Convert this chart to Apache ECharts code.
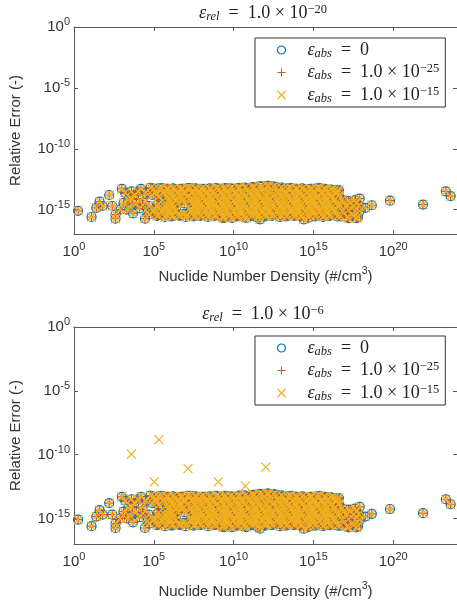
<!doctype html>
<html>
<head>
<meta charset="utf-8">
<title>Relative Error vs Nuclide Number Density</title>
<script src="https://cdn.jsdelivr.net/npm/echarts@6/dist/echarts.min.js"></script>
<style>
    html,body{
        margin: 0;
        padding: 0;
        background: #fff;
    }
    #chart{
        width: 457px;
        height: 606px;
    }
</style>
</head>
<body>
<div id="chart"></div>
<script>
    // nuclide number density (#/cm3) of every nuclide, same set in both panels
    var density = [
        1.8, 12.6, 25, 40, 63, 160, 250, 400, 400, 800, 1000, 1260, 1600, 2000, 2500, 3200, 4000, 4500, 5000, 6300, 8000,
        1e4, 1.26e4, 1.6e4, 2e4, 2e4, 2.8e4, 3.2e4, 4e4, 5e4, 5e4, 6.3e4, 8e4,
        // upper rows
        1e5, 3.2e5, 8e5, 2.5e6, 6.3e6, 2e7, 5e7, 1.6e8, 4e8, 1.3e9, 3.2e9, 1e10, 2.5e10, 8e10, 2e11, 6.3e11, 1.6e12, 5e12, 1.3e13, 4e13, 1e14, 3.2e14, 8e14, 2.5e15, 6.3e15, 2e16,
        1.26e5, 4e5, 1e6, 3.2e6, 8e6, 2.5e7, 6.3e7, 2e8, 5e8, 1.6e9, 4e9, 1.26e10, 3.2e10, 1e11, 2.5e11, 8e11, 2e12, 6.3e12, 1.6e13, 5e13, 1.26e14, 4e14, 1e15, 3.2e15, 8e15, 2.5e16,
        1.6e5, 5e5, 1.3e6, 4e6, 1e7, 3.2e7, 8e7, 2.5e8, 6.3e8, 2e9, 5e9, 1.6e10, 4e10, 1.3e11, 3.2e11, 1e12, 2.5e12, 8e12, 2e13, 6.3e13, 1.6e14, 5e14, 1.3e15, 4e15, 1e16, 3.2e16,
        2e5, 6.3e5, 1.6e6, 5e6, 1.26e7, 4e7, 1e8, 3.2e8, 8e8, 2.5e9, 6.3e9, 2e10, 5e10, 1.6e11, 4e11, 1.26e12, 3.2e12, 1e13, 2.5e13, 8e13, 2e14, 6.3e14, 1.6e15, 5e15, 1.26e16, 4e16,
        // middle rows
        8e5, 2.5e6, 6.3e6, 2e7, 5e7, 1.6e8, 4e8, 1.3e9, 3.2e9, 1e10, 2.5e10, 8e10, 2e11, 6.3e11, 1.6e12, 5e12, 1.3e13, 4e13, 1e14, 3.2e14, 8e14, 2.5e15, 6.3e15, 2e16,
        1e6, 3.2e6, 8e6, 2.5e7, 6.3e7, 2e8, 5e8, 1.6e9, 4e9, 1.26e10, 3.2e10, 1e11, 2.5e11, 8e11, 2e12, 6.3e12, 1.6e13, 5e13, 1.26e14, 4e14, 1e15, 3.2e15, 8e15, 2.5e16,
        1.6e5, 5e5, 1.3e6, 3.2e7, 8e7, 2.5e8, 6.3e8, 2e9, 5e9, 1.6e10, 4e10, 1.3e11, 3.2e11, 1e12, 2.5e12, 8e12, 2e13, 6.3e13, 1.6e14, 5e14, 1.3e15, 4e15, 1e16, 3.2e16,
        2e5, 6.3e5, 1.6e6, 4e7, 1e8, 3.2e8, 8e8, 2.5e9, 6.3e9, 2e10, 5e10, 1.6e11, 4e11, 1.26e12, 3.2e12, 1e13, 2.5e13, 8e13, 2e14, 6.3e14, 1.6e15, 5e15, 1.26e16,
        // lower rows
        1e5, 3.2e5, 8e5, 2.5e6, 2e7, 5e7, 1.6e8, 4e8, 1.3e9, 3.2e9, 1e10, 2.5e10, 8e10, 2e11, 6.3e11, 1.6e12, 5e12, 1.3e13, 4e13, 1e14, 3.2e14, 8e14, 2.5e15, 6.3e15, 2e16,
        1.26e5, 4e5, 1e6, 3.2e6, 8e6, 2.5e7, 6.3e7, 2e8, 5e8, 1.6e9, 4e9, 1.26e10, 3.2e10, 1e11, 2.5e11, 8e11, 2e12, 6.3e12, 1.6e13, 5e13, 1.26e14, 4e14, 1e15, 3.2e15, 8e15, 2.5e16,
        1.6e5, 5e5, 1.3e6, 4e6, 1e7, 3.2e7, 8e7, 2.5e8, 6.3e8, 2e9, 5e9, 1.6e10, 4e10, 1.3e11, 3.2e11, 1e12, 2.5e12, 8e12, 2e13, 6.3e13, 1.6e14, 5e14, 1.3e15, 4e15, 1e16, 3.2e16,
        2.5e9, 8e9, 6.3e10, 4.5e11, 2.5e14,
        // high-density tail
        3.2e16, 6.3e16, 1.6e17, 4e17, 8e17, 5e16, 1.3e17, 3.2e17, 7e17, 8e16, 2e17, 5e17, 6.3e16, 1.6e17, 4e17, 8e17, 5e16, 1.3e17, 3.2e17, 6.3e17, 1.6e17, 5e17,
        1.8e18, 4.6e18, 6.3e19, 7.4e21, 2e23, 4e23
    ];
    // relative error (-) matching density
    var relError = [
        8e-16, 2.5e-16, 1.4e-15, 4.5e-15, 2e-15, 1.6e-14, 2e-15, 4e-16, 1.8e-16, 1e-15, 5e-14, 3.5e-15, 2.5e-14, 1e-15, 6.3e-15, 1.6e-15, 3.2e-14, 8e-15, 5e-16, 1.6e-14, 3.2e-15,
        3.2e-14, 1.26e-15, 5e-14, 8e-15, 2.5e-15, 1.8e-16, 2.5e-14, 6.3e-16, 2e-15, 4e-16, 6.3e-14, 1.6e-14,
        5e-14, 6e-14, 5e-14, 4.5e-14, 5e-14, 6e-14, 5e-14, 5e-14, 4.5e-14, 5e-14, 6e-14, 5e-14, 6.3e-14, 5e-14, 7e-14, 8e-14, 9e-14, 7e-14, 5e-14, 6e-14, 5e-14, 4.5e-14, 5e-14, 6e-14, 4.5e-14, 4e-14,
        3.2e-14, 3e-14, 3.5e-14, 3.2e-14, 3e-14, 3.2e-14, 3.5e-14, 3.2e-14, 3e-14, 3.2e-14, 3.5e-14, 3.2e-14, 3.2e-14, 3.5e-14, 4e-14, 4.5e-14, 4e-14, 3.5e-14, 3.2e-14, 3e-14, 3.2e-14, 3.5e-14, 3.2e-14, 3e-14, 3.2e-14, 2.5e-14,
        1.8e-14, 2e-14, 1.6e-14, 1.8e-14, 2e-14, 1.8e-14, 1.6e-14, 2e-14, 1.8e-14, 1.8e-14, 1.6e-14, 2e-14, 1.8e-14, 1.8e-14, 2e-14, 1.8e-14, 1.6e-14, 2e-14, 1.8e-14, 1.8e-14, 2e-14, 1.6e-14, 1.8e-14, 2e-14, 1.8e-14, 2.5e-14,
        1.1e-14, 1.2e-14, 1e-14, 1.1e-14, 1.2e-14, 1.1e-14, 1e-14, 1.1e-14, 1.2e-14, 1.1e-14, 1e-14, 1.1e-14, 1.2e-14, 1.1e-14, 1e-14, 1.1e-14, 1.2e-14, 1.1e-14, 1e-14, 1.1e-14, 1.2e-14, 1.1e-14, 1e-14, 1.1e-14, 1.2e-14, 1.4e-14,
        6.3e-15, 7e-15, 6e-15, 6.3e-15, 7e-15, 6e-15, 6.3e-15, 6.3e-15, 7e-15, 6e-15, 6.3e-15, 6.3e-15, 7e-15, 6e-15, 6.3e-15, 6.3e-15, 7e-15, 6e-15, 6.3e-15, 6.3e-15, 7e-15, 6e-15, 6.3e-15, 6.3e-15,
        3.5e-15, 3.8e-15, 3.2e-15, 3.5e-15, 3.8e-15, 3.5e-15, 3.2e-15, 3.5e-15, 3.8e-15, 3.5e-15, 3.2e-15, 3.5e-15, 3.8e-15, 3.5e-15, 3.2e-15, 3.5e-15, 3.8e-15, 3.5e-15, 3.2e-15, 3.5e-15, 3.8e-15, 3.5e-15, 3.2e-15, 3.5e-15,
        2.2e-15, 2e-15, 2.5e-15, 2.2e-15, 2e-15, 2.2e-15, 2.5e-15, 2.2e-15, 2.2e-15, 2e-15, 2.2e-15, 2.5e-15, 2.2e-15, 2.2e-15, 2e-15, 2.2e-15, 2.5e-15, 2.2e-15, 2.2e-15, 2e-15, 2.2e-15, 2.5e-15, 2.2e-15, 2.2e-15,
        1.26e-15, 1.4e-15, 1.2e-15, 1.3e-15, 1.26e-15, 1.4e-15, 1.2e-15, 1.26e-15, 1.3e-15, 1.4e-15, 1.26e-15, 1.2e-15, 1.3e-15, 1.26e-15, 1.4e-15, 1.2e-15, 1.26e-15, 1.3e-15, 1.4e-15, 1.26e-15, 1.2e-15, 1.3e-15, 1.26e-15,
        8e-16, 7e-16, 8e-16, 9e-16, 8e-16, 7e-16, 8e-16, 8e-16, 9e-16, 8e-16, 7e-16, 8e-16, 8e-16, 9e-16, 8e-16, 7e-16, 8e-16, 8e-16, 9e-16, 8e-16, 7e-16, 8e-16, 8e-16, 9e-16, 8e-16,
        4.5e-16, 5e-16, 4.5e-16, 4e-16, 4.5e-16, 5e-16, 4.5e-16, 4e-16, 4.5e-16, 5e-16, 4.5e-16, 4e-16, 4.5e-16, 5e-16, 4.5e-16, 4e-16, 4.5e-16, 5e-16, 4.5e-16, 4e-16, 4.5e-16, 5e-16, 4.5e-16, 4e-16, 4.5e-16, 5e-16,
        3e-16, 2.5e-16, 2.8e-16, 3.2e-16, 2.5e-16, 2.8e-16, 3e-16, 2.5e-16, 3.2e-16, 2.2e-16, 3e-16, 2.8e-16, 2.5e-16, 3e-16, 2.2e-16, 2.8e-16, 3e-16, 2.5e-16, 2.8e-16, 3e-16, 2.8e-16, 2.2e-16, 2.8e-16, 2.5e-16, 3e-16, 2.8e-16,
        2.1e-16, 2.1e-16, 2.1e-16, 1.6e-16, 1.6e-16,
        3.5e-14, 6.3e-15, 5e-15, 6e-15, 8e-15, 2.2e-15, 2.5e-15, 2e-15, 2.2e-15, 3.5e-15, 3.5e-15, 3.5e-15, 8e-16, 9e-16, 8e-16, 8e-16, 2.8e-16, 2.5e-16, 3e-16, 2.5e-16, 2e-16, 2e-16,
        1.4e-15, 2.3e-15, 5.5e-15, 2.6e-15, 3.2e-14, 1.3e-14
    ];
    // more nuclides inside the dense band (density, relative error)
    var bandDensity = [
        2e5, 6.3e5, 1.6e6, 5e6, 1.26e7, 4e7, 1e8, 3.2e8, 8e8, 2.5e9, 6.3e9, 2e10, 5e10, 1.6e11, 4e11, 1.26e12, 3.2e12, 1e13, 2.5e13, 8e13, 2e14, 6.3e14, 1.6e15, 5e15, 1.26e16, 4e16,
        1.26e5, 4e5, 1e6, 3.2e6, 8e6, 2.5e7, 6.3e7, 2e8, 5e8, 1.6e9, 4e9, 1.26e10, 3.2e10, 1e11, 2.5e11, 8e11, 2e12, 6.3e12, 1.6e13, 5e13, 1.26e14, 4e14, 1e15, 3.2e15, 8e15, 2.5e16,
        1e6, 3.2e6, 8e6, 2.5e7, 6.3e7, 2e8, 5e8, 1.6e9, 4e9, 1.26e10, 3.2e10, 1e11, 2.5e11, 8e11, 2e12, 6.3e12, 1.6e13, 5e13, 1.26e14, 4e14, 1e15, 3.2e15, 8e15, 2.5e16,
        2e5, 6.3e5, 1.6e6, 4e7, 1e8, 3.2e8, 8e8, 2.5e9, 6.3e9, 2e10, 5e10, 1.6e11, 4e11, 1.26e12, 3.2e12, 1e13, 2.5e13, 8e13, 2e14, 6.3e14, 1.6e15, 5e15, 1.26e16, 4e16,
        1.26e5, 4e5, 1e6, 2.5e7, 6.3e7, 2e8, 5e8, 1.6e9, 4e9, 1.26e10, 3.2e10, 1e11, 2.5e11, 8e11, 2e12, 6.3e12, 1.6e13, 5e13, 1.26e14, 4e14, 1e15, 3.2e15, 8e15, 2.5e16,
        2e5, 6.3e5, 1.6e6, 5e6, 1.26e7, 4e7, 1e8, 3.2e8, 8e8, 2.5e9, 6.3e9, 2e10, 5e10, 1.6e11, 4e11, 1.26e12, 3.2e12, 1e13, 2.5e13, 8e13, 2e14, 6.3e14, 1.6e15, 5e15, 1.26e16, 4e16
    ];
    var bandError = [
        5.5e-14, 5e-14, 5.5e-14, 5e-14, 6e-14, 5.5e-14, 5e-14, 5.5e-14, 6e-14, 5e-14, 5.5e-14, 6e-14, 6.5e-14, 7e-14, 8e-14, 9e-14, 8e-14, 6.5e-14, 5.5e-14, 5e-14, 5.5e-14, 5e-14, 5.5e-14, 5e-14, 4.5e-14, 4e-14,
        2.2e-14, 2.4e-14, 2e-14, 2.2e-14, 2.4e-14, 2.2e-14, 2e-14, 2.2e-14, 2.4e-14, 2.2e-14, 2e-14, 2.2e-14, 2.4e-14, 2.2e-14, 2e-14, 2.2e-14, 2.4e-14, 2.2e-14, 2e-14, 2.2e-14, 2.4e-14, 2.2e-14, 2e-14, 2.2e-14, 2.4e-14, 2.2e-14,
        8e-15, 8.5e-15, 7.5e-15, 8e-15, 8.5e-15, 7.5e-15, 8e-15, 8.5e-15, 7.5e-15, 8e-15, 8.5e-15, 7.5e-15, 8e-15, 8.5e-15, 7.5e-15, 8e-15, 8.5e-15, 7.5e-15, 8e-15, 8.5e-15, 7.5e-15, 8e-15, 8.5e-15, 7.5e-15,
        2.8e-15, 3e-15, 2.6e-15, 2.8e-15, 3e-15, 2.6e-15, 2.8e-15, 3e-15, 2.6e-15, 2.8e-15, 3e-15, 2.6e-15, 2.8e-15, 3e-15, 2.6e-15, 2.8e-15, 3e-15, 2.6e-15, 2.8e-15, 3e-15, 2.6e-15, 2.8e-15, 3e-15, 2.6e-15,
        1e-15, 1.1e-15, 9.5e-16, 1e-15, 1.1e-15, 9.5e-16, 1e-15, 1.1e-15, 9.5e-16, 1e-15, 1.1e-15, 9.5e-16, 1e-15, 1.1e-15, 9.5e-16, 1e-15, 1.1e-15, 9.5e-16, 1e-15, 1.1e-15, 9.5e-16, 1e-15, 1.1e-15, 9.5e-16,
        3.5e-16, 3.8e-16, 3.3e-16, 3.5e-16, 3.8e-16, 3.3e-16, 3.5e-16, 3.8e-16, 3.3e-16, 3.5e-16, 3.8e-16, 3.3e-16, 3.5e-16, 3.8e-16, 3.3e-16, 3.5e-16, 3.8e-16, 3.3e-16, 3.5e-16, 3.8e-16, 3.3e-16, 3.5e-16, 3.8e-16, 3.3e-16, 3.5e-16, 3.8e-16
    ];
    // extra points of the eps_abs = 1e-15 run in the eps_rel = 1e-6 panel
    var outlierDensity = [4e3, 1.07e5, 2.1e5, 1.4e7, 1.1e9, 5.5e10, 1.05e12];
    var outlierError = [1.1e-10, 7.4e-13, 1.5e-9, 8e-12, 7.4e-13, 3.4e-13, 1.05e-11];

    var xTicks = [1, 1e5, 1e10, 1e15, 1e20];
    var yTicks = [1e-15, 1e-10, 1e-5, 1];
    // one name set per panel, so each legend reads its own series
    var seriesNames = [['abs0', 'abs25', 'abs15'], ['abs0 ', 'abs25 ', 'abs15 ']];
    var legendLabels = [
        '{e|ε}{sub|abs}{t|\u2002=\u20020}',
        '{e|ε}{sub|abs}{t|\u2002=\u20021.0 × 10}{sup|−25}',
        '{e|ε}{sub|abs}{t|\u2002=\u20021.0 × 10}{sup|−15}'
    ];
    var panelTitles = [
        '{e|ε}{sub|rel}{t|\u2002=\u20021.0 × 10}{sup|−20}',
        '{e|ε}{sub|rel}{t|\u2002=\u20021.0 × 10}{sup|−6}'
    ];

    var colors = ['#0072BD', '#D95319', '#EDB120'];
    var symbols = ['circle', 'path://M5,0L5,10M0,5L10,5', 'path://M0,0L10,10M10,0L0,10'];
    // legend keys: hollow circle, solid thin plus, stroked cross
    var legendIcons = ['circle', 'path://M4.4,0H5.6V4.4H10V5.6H5.6V10H4.4V5.6H0V4.4H4.4Z', symbols[2]];
    var legendStyles = [
        {color: 'none', borderColor: colors[0], borderWidth: 1.2},
        {color: colors[1], borderColor: colors[1], borderWidth: 0},
        {color: 'none', borderColor: colors[2], borderWidth: 1.2}
    ];
    var axisColor = '#5a5a5a', textColor = '#333';
    var sans = '"Liberation Sans", Arial, Helvetica, sans-serif';
    var serif = '"Liberation Serif", "Times New Roman", serif';

    function pairs(xs, ys) {
        var out = [];
        for (var i = 0; i < xs.length; i++) out.push([xs[i], ys[i]]);
        return out;
    }
    var baseData = pairs(density, relError).concat(pairs(bandDensity, bandError));
    var outlierData = pairs(outlierDensity, outlierError);

    function powLabel(v) {
        var e = Math.round(Math.log(v) / Math.LN10);
        return '{b|10}{s|' + e + '}';
    }
    var tickRich = {
        b: {fontSize: 15, fontFamily: sans, color: textColor, verticalAlign: 'middle'},
        s: {fontSize: 11, fontFamily: sans, color: textColor, padding: [0, 0, 10, 0], verticalAlign: 'middle'}
    };
    function latexRich(leftPad) {
        return {
            e: {fontSize: 18, fontFamily: serif, fontStyle: 'italic', fontWeight: 'normal', color: '#222', lineHeight: 20, padding: [0, 0, 0, leftPad]},
            sub: {fontSize: 12.5, fontFamily: serif, fontStyle: 'italic', fontWeight: 'normal', color: '#222', lineHeight: 12, verticalAlign: 'bottom'},
            t: {fontSize: 18, fontFamily: serif, fontWeight: 'normal', color: '#222', lineHeight: 20},
            sup: {fontSize: 12.5, fontFamily: serif, fontWeight: 'normal', color: '#222', lineHeight: 12, verticalAlign: 'top'}
        };
    }

    function bottomX(grid, gap) {
        return {
            gridIndex: grid, type: 'log', min: 1, max: 1e24,
            name: '{n|Nuclide Number Density (#/cm}{s|3}{n|)}',
            nameLocation: 'middle', nameGap: gap,
            nameTextStyle: {
                rich: {
                    n: {fontSize: 15, fontFamily: sans, color: textColor, verticalAlign: 'middle'},
                    s: {fontSize: 10.5, fontFamily: sans, color: textColor, padding: [0, 0, 10, 0], verticalAlign: 'middle'}
                }
            },
            axisLine: {lineStyle: {color: axisColor, width: 1}},
            axisTick: {inside: true, length: 4, lineStyle: {color: axisColor}, customValues: xTicks},
            axisLabel: {margin: 7, formatter: powLabel, rich: tickRich, customValues: xTicks},
            splitLine: {show: false}
        };
    }
    function topX(grid) {
        return {
            gridIndex: grid, type: 'log', min: 1, max: 1e24, position: 'top',
            axisLine: {lineStyle: {color: axisColor, width: 1}},
            axisTick: {inside: true, length: 4, lineStyle: {color: axisColor}, customValues: xTicks},
            axisLabel: {show: false},
            splitLine: {show: false}
        };
    }
    function leftY(grid) {
        return {
            gridIndex: grid, type: 'log', min: 1e-17, max: 1,
            name: 'Relative Error (-)', nameLocation: 'middle', nameGap: 51,
            nameTextStyle: {fontSize: 15, fontFamily: sans, color: textColor},
            axisLine: {lineStyle: {color: axisColor, width: 1}},
            axisTick: {inside: true, length: 4, lineStyle: {color: axisColor}, customValues: yTicks},
            axisLabel: {margin: 4, formatter: powLabel, rich: tickRich, customValues: yTicks},
            splitLine: {show: false}
        };
    }
    function rightY(grid) {
        return {
            gridIndex: grid, type: 'log', min: 1e-17, max: 1, position: 'right',
            axisLine: {lineStyle: {color: axisColor, width: 1}},
            axisTick: {inside: true, length: 4, lineStyle: {color: axisColor}, customValues: yTicks},
            axisLabel: {show: false},
            splitLine: {show: false}
        };
    }

    function scatter(i, grid, data) {
        return {
            name: seriesNames[grid][i], type: 'scatter',
            xAxisIndex: grid, yAxisIndex: grid,
            symbol: symbols[i], symbolSize: 9,
            itemStyle: {color: 'none', borderColor: colors[i], borderWidth: 1.2, opacity: 1},
            emphasis: {disabled: true},
            animation: false,
            data: data
        };
    }

    function legendFor(grid, top) {
        var names = seriesNames[grid];
        return {
            left: 255, top: top, orient: 'vertical',
            itemWidth: 8, itemHeight: 8, itemGap: 2.5,
            padding: [2, 6, 2, 20],
            borderColor: '#333', borderWidth: 1, backgroundColor: '#fff',
            selectedMode: false,
            data: names.map(function (n, i) {
                return {name: n, icon: legendIcons[i], itemStyle: legendStyles[i]};
            }),
            formatter: function (name) { return legendLabels[names.indexOf(name)]; },
            textStyle: {lineHeight: 20, rich: latexRich(17)}
        };
    }

    var chart = echarts.init(document.getElementById('chart'));
    chart.setOption({
        backgroundColor: '#fff',
        animation: false,
        title: [
            {text: panelTitles[0], left: 263, top: 3, textAlign: 'center', padding: 0, textStyle: {fontWeight: 'normal', lineHeight: 20, rich: latexRich(0)}},
            {text: panelTitles[1], left: 263, top: 304, textAlign: 'center', padding: 0, textStyle: {fontWeight: 'normal', lineHeight: 20, rich: latexRich(0)}}
        ],
        legend: [legendFor(0, 38), legendFor(1, 336)],
        grid: [
            {left: 67, top: 27, width: 393, height: 207},
            {left: 67, top: 327, width: 393, height: 217}
        ],
        xAxis: [bottomX(0, 32), bottomX(1, 37), topX(0), topX(1)],
        yAxis: [leftY(0), leftY(1), rightY(0), rightY(1)],
        series: [
            scatter(0, 0, baseData),
            scatter(1, 0, baseData),
            scatter(2, 0, baseData),
            scatter(0, 1, baseData),
            scatter(1, 1, baseData),
            scatter(2, 1, baseData.concat(outlierData))
        ]
    });
</script>
</body>
</html>
